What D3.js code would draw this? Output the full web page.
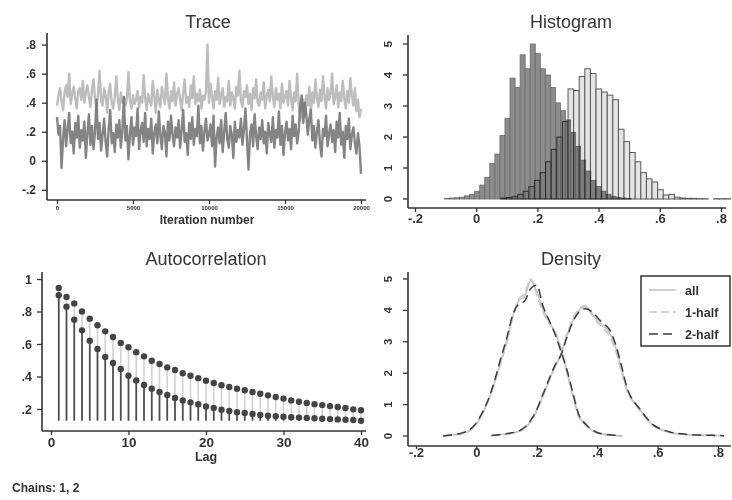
<!DOCTYPE html>
<html><head><meta charset="utf-8">
<script src="https://cdn.jsdelivr.net/npm/d3@7"></script>
<style>
body{margin:0;background:#fff}
svg{display:block}
text{font-family:Arial,"Liberation Sans",Helvetica,sans-serif}
</style>
</head><body>
<svg id="c" width="732" height="500"></svg>
<script>
// ---------- DATA ----------
// Trace: one sample every 100 iterations, 0..20000
const traceStep = 100;
const traceLight = [
.38,.45,.50,.41,.35,.47,.52,.44,.60,.39,.46,.51,.43,.36,.48,.50,.42,.55,.40,.47,
.52,.44,.37,.49,.56,.43,.34,.46,.62,.41,.38,.50,.45,.33,.47,.53,.40,.36,.44,.58,
.42,.35,.47,.40,.44,.38,.43,.61,.41,.36,.45,.39,.42,.48,.37,.44,.40,.59,.43,.35,
.46,.41,.38,.55,.44,.33,.49,.42,.37,.51,.45,.39,.60,.43,.36,.48,.41,.54,.38,.46,
.50,.42,.35,.47,.56,.40,.44,.37,.52,.43,.58,.39,.46,.41,.49,.36,.45,.42,.47,.80,
.40,.53,.44,.36,.48,.42,.57,.39,.45,.50,.37,.44,.41,.55,.38,.47,.43,.36,.51,.45,
.62,.41,.37,.48,.44,.52,.39,.46,.35,.50,.43,.56,.40,.38,.47,.42,.54,.36,.45,.49,
.41,.58,.44,.37,.50,.42,.46,.36,.53,.40,.44,.48,.38,.55,.43,.35,.47,.41,.60,.39,
.28,.35,.42,.30,.45,.38,.51,.33,.47,.40,.56,.43,.37,.49,.41,.58,.44,.36,.50,.42,
.46,.60,.39,.44,.52,.37,.47,.41,.55,.43,.36,.48,.40,.57,.45,.38,.50,.34,.42,.30,
.36];
const traceDark = [
.30,.18,.24,-.05,.15,.28,.10,.22,.33,.12,.20,.05,.26,.16,.31,.09,.21,.14,.27,.02,
.19,.32,.11,.24,.08,.20,.42,.15,.26,.07,.18,.29,.13,.03,.22,.35,.12,.19,.06,.25,
.16,.28,.09,.21,.44,.14,.24,.01,.18,.30,.11,.23,.17,.36,.08,.20,.26,.13,.33,.10,
.22,.15,.29,.05,.19,.25,.12,.34,.17,.08,.24,.20,.03,.27,.14,.31,.18,.10,.23,.16,
.28,.09,.21,.35,.13,.19,.04,.26,.15,.30,.11,.22,.17,.38,.12,.24,.07,.20,.29,.14,
.18,.25,.10,.31,-.04,.16,.23,.12,.28,.06,.20,.33,.15,.09,.24,.18,.02,.27,.13,.21,
.16,.29,.11,.22,.36,.14,-.06,.19,.25,.10,.32,.17,.08,.23,.15,.28,.12,.20,.05,.26,
.18,.13,.30,.09,.21,.16,.34,.11,.24,.04,.19,.27,.14,.22,.08,.31,.17,.25,.12,.20,
.38,.45,.26,.40,.32,.18,.29,.35,.14,.24,.09,.20,.28,.12,.03,.22,.17,.31,.10,.19,
.25,.13,.21,.06,.27,.16,.33,.11,.20,.02,.24,.15,.29,.08,.18,.23,.12,.05,.19,.10,
-.09];
const traceXTicks = [0,5000,10000,15000,20000];
const traceYTicks = [-0.2,0,0.2,0.4,0.6,0.8];
const traceYLabels = ["-.2","0",".2",".4",".6",".8"];

// Histogram: bin start, bin width, densities
const histAStart = -0.104, histAWidth = 0.0165;
const histA = [0.02,0.03,0.04,0.06,0.10,0.15,0.25,0.45,0.70,1.15,1.45,2.05,2.60,3.90,3.60,4.65,4.20,5.00,4.70,4.20,4.00,3.60,3.10,2.85,2.55,2.15,1.70,1.25,0.90,0.60,0.40,0.25,0.15,0.08,0.05,0.03,0.02];
const histBStart = 0.0805, histBWidth = 0.0183;
const histB = [0.03,0.05,0.08,0.15,0.25,0.40,0.60,0.85,1.20,1.60,2.00,2.50,3.55,3.50,3.95,4.20,4.05,3.55,3.45,3.35,3.20,2.25,1.85,1.50,1.20,0.85,0.65,0.55,0.30,0.13,0.15,0.06,0.03,0.02,0.02,0.01,0.01,0.00,0.01,0.01,0.01];
const paramTicks = [-0.2,0,0.2,0.4,0.6,0.8];
const paramLabels = ["-.2","0",".2",".4",".6",".8"];
const densTicks = [0,1,2,3,4,5];

// Autocorrelation
const lags = d3.range(1,41);
const acUpper = [.945,.89,.85,.80,.756,.715,.678,.643,.606,.58,.55,.524,.497,.477,.456,.44,.42,.405,.39,.374,.36,.346,.335,.325,.315,.305,.294,.284,.274,.264,.253,.245,.237,.23,.224,.218,.212,.206,.198,.192];
const acLower = [.90,.83,.75,.684,.62,.57,.52,.483,.446,.405,.376,.348,.325,.305,.286,.268,.253,.241,.229,.216,.206,.196,.188,.18,.175,.17,.163,.159,.155,.153,.149,.147,.145,.143,.14,.138,.136,.134,.132,.128];
const acXTicks = [0,10,20,30,40];
const acYTicks = [0.2,0.4,0.6,0.8,1];
const acYLabels = [".2",".4",".6",".8","1"];

// Density curves
const gridA = [-0.11,-0.08,-0.05,-0.02,0.00,0.02,0.04,0.06,0.08,0.10,0.12,0.14,0.16,0.18,0.20,0.22,0.24,0.26,0.28,0.30,0.32,0.34,0.36,0.38,0.40,0.43,0.46,0.48];
const allA   = [0.00,0.03,0.08,0.20,0.40,0.72,1.15,1.70,2.35,3.00,3.80,4.30,4.45,4.95,4.60,4.05,3.65,3.30,2.75,2.05,1.30,0.62,0.38,0.20,0.10,0.04,0.02,0.00];
const half1A = [0.00,0.02,0.07,0.18,0.38,0.70,1.12,1.68,2.30,2.95,3.75,4.35,4.55,5.00,4.50,3.95,3.60,3.35,2.80,2.00,1.25,0.60,0.36,0.18,0.09,0.04,0.01,0.00];
const half2A = [0.00,0.04,0.09,0.22,0.42,0.75,1.18,1.75,2.45,3.10,3.85,4.20,4.30,4.70,4.80,4.15,3.70,3.25,2.70,2.10,1.35,0.66,0.40,0.22,0.11,0.05,0.02,0.00];
const gridB = [0.05,0.08,0.11,0.14,0.16,0.18,0.20,0.22,0.24,0.26,0.28,0.30,0.32,0.34,0.36,0.38,0.40,0.42,0.44,0.46,0.48,0.50,0.52,0.54,0.56,0.58,0.60,0.62,0.64,0.66,0.70,0.74,0.78,0.82];
const allB   = [0.01,0.04,0.08,0.15,0.26,0.47,0.82,1.28,1.75,2.20,2.60,3.20,3.70,4.00,4.12,3.95,3.70,3.50,3.30,2.85,2.15,1.45,1.10,0.85,0.60,0.38,0.26,0.18,0.12,0.08,0.04,0.03,0.02,0.01];
const half1B = [0.01,0.03,0.07,0.14,0.24,0.45,0.80,1.25,1.72,2.18,2.62,3.25,3.75,4.05,4.15,3.90,3.62,3.42,3.20,2.75,2.05,1.40,1.08,0.83,0.58,0.36,0.25,0.17,0.11,0.07,0.04,0.02,0.02,0.01];
const half2B = [0.02,0.05,0.09,0.16,0.28,0.50,0.85,1.32,1.80,2.25,2.58,3.15,3.65,3.95,4.05,3.98,3.78,3.58,3.40,2.95,2.25,1.50,1.12,0.88,0.62,0.40,0.27,0.19,0.13,0.09,0.05,0.03,0.02,0.01];
const legendLabels = ["all","1-half","2-half"];

// ---------- DRAW ----------
const svg = d3.select('#c');
const INK = '#333';
svg.append('rect').attr('width',732).attr('height',500).attr('fill','#fff');

function styleAxis(g, fs){
  g.select('.domain').remove();
  g.selectAll('line').attr('stroke',INK).attr('stroke-width',1.3);
  g.selectAll('text').attr('fill',INK).attr('font-size',fs).attr('font-weight','bold');
}
function frame(x0,x1,y0,y1){ // axis lines: left and bottom
  svg.append('line').attr('x1',x0).attr('x2',x0).attr('y1',y0).attr('y2',y1).attr('stroke',INK).attr('stroke-width',1.6);
  svg.append('line').attr('x1',x0).attr('x2',x1).attr('y1',y1).attr('y2',y1).attr('stroke',INK).attr('stroke-width',1.6);
}
function title(t,x,y){
  svg.append('text').attr('x',x).attr('y',y).attr('text-anchor','middle').attr('font-size',18).attr('fill',INK).text(t);
}

// ===== Trace =====
{
  const x = d3.scaleLinear([0,20000],[57,361]);
  const y = d3.scaleLinear([-0.27,0.88],[200,33]);
  const line = d3.line().x((d,i)=>x(i*traceStep)).y(d=>y(d));
  svg.append('path').datum(traceLight).attr('d',line).attr('fill','none').attr('stroke','#bdbdbd').attr('stroke-width',2.4).attr('stroke-linejoin','round');
  svg.append('path').datum(traceDark).attr('d',line).attr('fill','none').attr('stroke','#777').attr('stroke-width',2.4).attr('stroke-linejoin','round').attr('opacity',0.9);
  frame(47,366,33,200);
  svg.append('g').attr('transform','translate(47,0)')
    .call(d3.axisLeft(y).tickValues(traceYTicks).tickFormat((d,i)=>traceYLabels[i]).tickSize(5).tickPadding(6))
    .call(g=>styleAxis(g,12));
  svg.append('g').attr('transform','translate(0,200)')
    .call(d3.axisBottom(x).tickValues(traceXTicks).tickFormat(d3.format('d')).tickSize(4).tickPadding(2))
    .call(g=>styleAxis(g,6));
  title('Trace',208,28);
  svg.append('text').attr('x',207).attr('y',224).attr('text-anchor','middle').attr('font-size',12).attr('font-weight','bold').attr('fill',INK).text('Iteration number');
}

// ===== Histogram =====
{
  const x = d3.scaleLinear([-0.2,0.8],[415,721]);
  const y = d3.scaleLinear([0,5],[199,44]);
  const gA = svg.append('g');
  gA.selectAll('rect').data(histA).join('rect')
    .attr('x',(d,i)=>x(histAStart+i*histAWidth))
    .attr('width',(d,i)=>x(histAStart+(i+1)*histAWidth)-x(histAStart+i*histAWidth))
    .attr('y',d=>y(d)).attr('height',d=>y(0)-y(d))
    .attr('fill','#8c8c8c').attr('stroke','#6a6a6a').attr('stroke-width',0.8);
  const gB = svg.append('g').style('mix-blend-mode','multiply');
  gB.selectAll('rect').data(histB).join('rect')
    .attr('x',(d,i)=>x(histBStart+i*histBWidth))
    .attr('width',(d,i)=>x(histBStart+(i+1)*histBWidth)-x(histBStart+i*histBWidth))
    .attr('y',d=>y(d)).attr('height',d=>y(0)-y(d))
    .attr('fill','#e4e4e4').attr('stroke','#585858').attr('stroke-width',1);
  frame(408,726,35,208);
  const ya = svg.append('g');
  ya.selectAll('line').data(densTicks).join('line')
    .attr('x1',403).attr('x2',408).attr('y1',d=>y(d)).attr('y2',d=>y(d)).attr('stroke',INK).attr('stroke-width',1.3);
  ya.selectAll('text').data(densTicks).join('text')
    .attr('transform',d=>`translate(392,${y(d)}) rotate(-90)`).attr('text-anchor','middle')
    .attr('font-size',11.5).attr('font-weight','bold').attr('fill',INK).text(d=>d);
  svg.append('g').attr('transform','translate(0,208)')
    .call(d3.axisBottom(x).tickValues(paramTicks).tickFormat((d,i)=>paramLabels[i]).tickSize(4).tickPadding(2))
    .call(g=>styleAxis(g,13));
  title('Histogram',571,28);
}

// ===== Autocorrelation =====
{
  const x = d3.scaleLinear([0,40],[51,361]);
  const y = d3.scaleLinear([0.2,1],[409,279]);
  const base = d3.min(acUpper.concat(acLower));
  svg.append('g').selectAll('line').data(acUpper).join('line')
    .attr('x1',(d,i)=>x(lags[i])).attr('x2',(d,i)=>x(lags[i])).attr('y1',y(base)).attr('y2',d=>y(d))
    .attr('stroke','#d2d2d2').attr('stroke-width',1.6);
  svg.append('g').selectAll('line').data(acLower).join('line')
    .attr('x1',(d,i)=>x(lags[i])).attr('x2',(d,i)=>x(lags[i])).attr('y1',y(base)).attr('y2',d=>y(d))
    .attr('stroke','#4a4a4a').attr('stroke-width',1.7);
  svg.append('g').selectAll('circle').data(acUpper).join('circle')
    .attr('cx',(d,i)=>x(lags[i])).attr('cy',d=>y(d)).attr('r',3.2).attr('fill','#444');
  svg.append('g').selectAll('circle').data(acLower).join('circle')
    .attr('cx',(d,i)=>x(lags[i])).attr('cy',d=>y(d)).attr('r',3.2).attr('fill','#444');
  frame(42,366,272,431);
  svg.append('g').attr('transform','translate(42,0)')
    .call(d3.axisLeft(y).tickValues(acYTicks).tickFormat((d,i)=>acYLabels[i]).tickSize(5).tickPadding(5))
    .call(g=>styleAxis(g,12.5));
  svg.append('g').attr('transform','translate(0,431)')
    .call(d3.axisBottom(x).tickValues(acXTicks).tickFormat(d3.format('d')).tickSize(4).tickPadding(2))
    .call(g=>styleAxis(g,13.5));
  title('Autocorrelation',206,265);
  svg.append('text').attr('x',206).attr('y',461).attr('text-anchor','middle').attr('font-size',12.5).attr('font-weight','bold').attr('fill',INK).text('Lag');
}

// ===== Density =====
{
  const x = d3.scaleLinear([-0.2,0.8],[416,718]);
  const y = d3.scaleLinear([0,5],[436,279]);
  const mk = grid => d3.line().x((d,i)=>x(grid[i])).y(d=>y(d)).curve(d3.curveMonotoneX);
  const styles = [
    {c:'#c6c6c6', dash:null, w:1.6},
    {c:'#c6c6c6', dash:'8,4', w:1.6},
    {c:'#3c3c3c', dash:'9,5', w:1.5}
  ];
  const setsA = [allA,half1A,half2A], setsB = [allB,half1B,half2B];
  setsA.forEach((s,k)=>{
    const p = svg.append('path').datum(s).attr('d',mk(gridA)).attr('fill','none').attr('stroke',styles[k].c).attr('stroke-width',styles[k].w);
    if(styles[k].dash) p.attr('stroke-dasharray',styles[k].dash);
  });
  setsB.forEach((s,k)=>{
    const p = svg.append('path').datum(s).attr('d',mk(gridB)).attr('fill','none').attr('stroke',styles[k].c).attr('stroke-width',styles[k].w);
    if(styles[k].dash) p.attr('stroke-dasharray',styles[k].dash);
  });
  frame(408,731,272,446);
  const ya = svg.append('g');
  ya.selectAll('line').data(densTicks).join('line')
    .attr('x1',403).attr('x2',408).attr('y1',d=>y(d)).attr('y2',d=>y(d)).attr('stroke',INK).attr('stroke-width',1.3);
  ya.selectAll('text').data(densTicks).join('text')
    .attr('transform',d=>`translate(392,${y(d)}) rotate(-90)`).attr('text-anchor','middle')
    .attr('font-size',11.5).attr('font-weight','bold').attr('fill',INK).text(d=>d);
  svg.append('g').attr('transform','translate(0,446)')
    .call(d3.axisBottom(x).tickValues(paramTicks).tickFormat((d,i)=>paramLabels[i]).tickSize(3).tickPadding(-1))
    .call(g=>styleAxis(g,13));
  title('Density',571,265);
  // legend
  const lg = svg.append('g');
  lg.append('rect').attr('x',641).attr('y',276).attr('width',89).attr('height',70).attr('fill','#fff').attr('stroke',INK).attr('stroke-width',1.5);
  legendLabels.forEach((t,k)=>{
    const yy = 290 + k*22;
    const l = lg.append('line').attr('x1',649).attr('x2',676).attr('y1',yy).attr('y2',yy).attr('stroke',styles[k].c).attr('stroke-width',1.6);
    if(styles[k].dash) l.attr('stroke-dasharray',styles[k].dash);
    lg.append('text').attr('x',685).attr('y',yy+4.5).attr('font-size',12.5).attr('font-weight','bold').attr('fill',INK).text(t);
  });
}

svg.append('text').attr('x',12).attr('y',492).attr('font-size',12).attr('font-weight','bold').attr('fill',INK).text('Chains: 1, 2');
</script>
</body></html>
